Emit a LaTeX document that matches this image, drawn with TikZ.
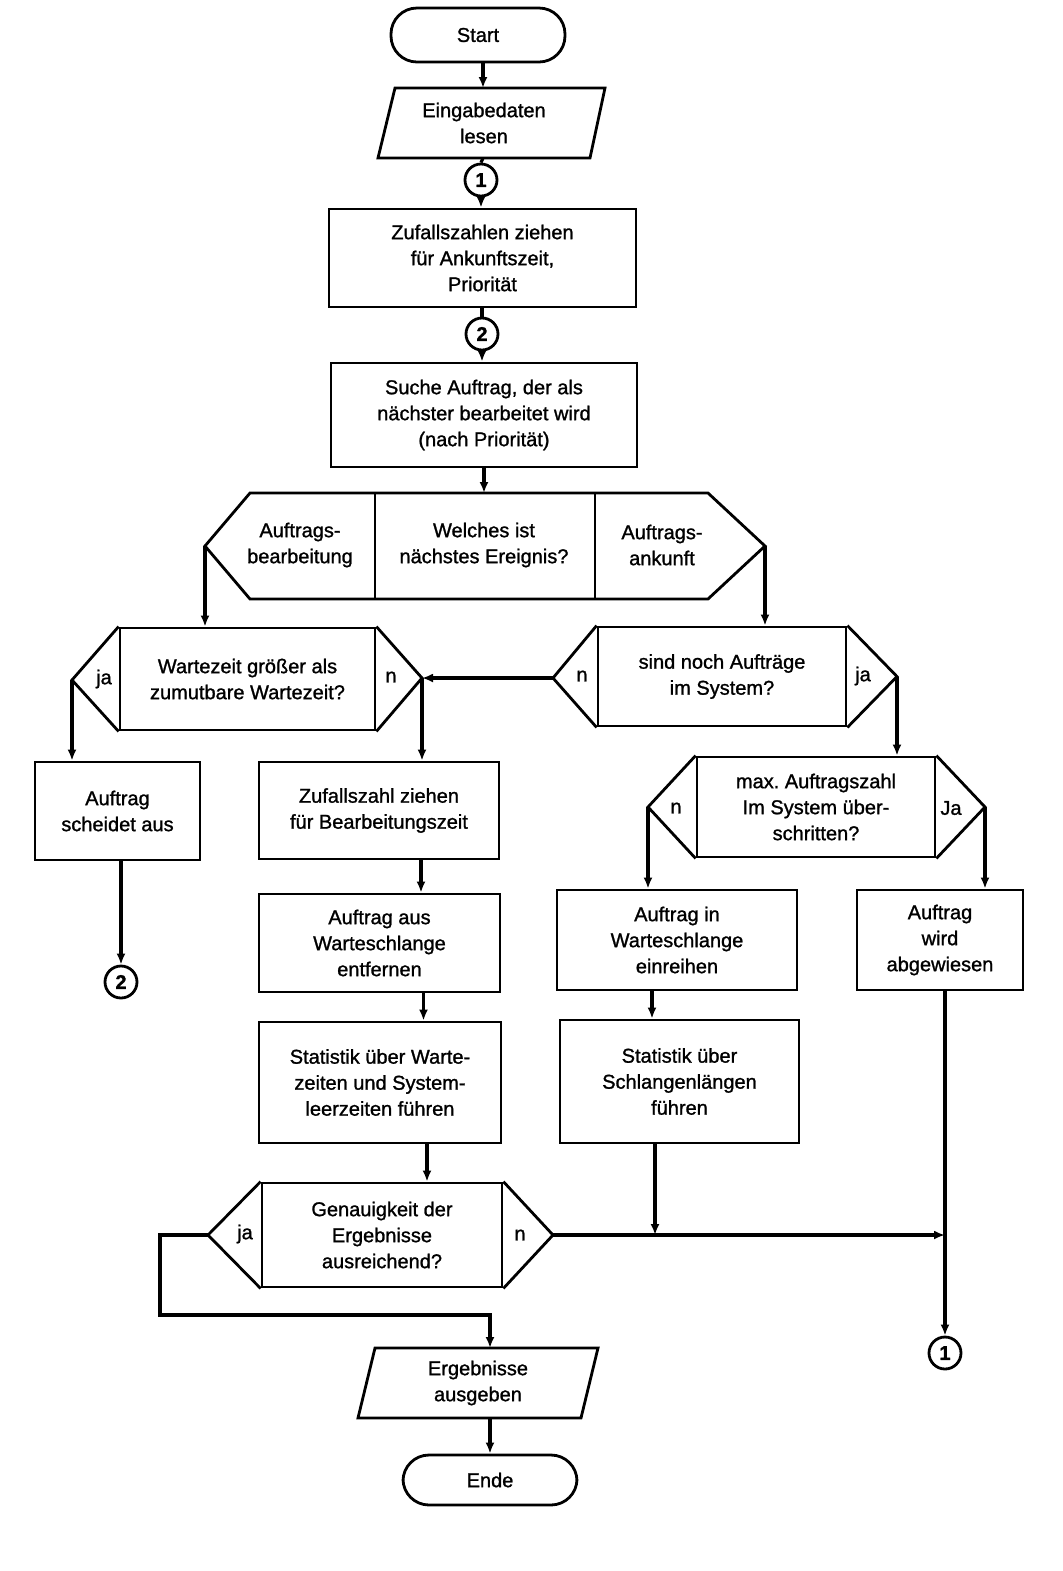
\documentclass[tikz,border=0pt]{standalone}
\usepackage{fontspec}
\setmainfont{Liberation Sans}[FakeBold=1.2]
\usetikzlibrary{arrows.meta}
\begin{document}
\begin{tikzpicture}[x=0.5pt,y=-0.5pt,
  lw/.style={line width=1.4pt},
  flow/.style={line width=1.6pt,-{Latex[length=5.5pt,width=4.5pt]}},
  plain/.style={line width=1.6pt},
  box/.style={draw,lw,align=center,inner sep=0pt,font=\fontsize{10}{13}\selectfont},
  txt/.style={align=center,inner sep=0pt,font=\fontsize{10}{13}\selectfont},
  term/.style={box,rounded corners=13pt},
  conn/.style={draw,circle,lw,minimum size=16pt,inner sep=0pt,font=\bfseries\fontsize{10}{12}\selectfont},
  dec/.style={box},
  lab/.style={txt}]
\useasboundingbox (0,0) rectangle (1063,1571);

% ---- top column
\node[term,minimum width=87pt,minimum height=27pt] (start) at (478,35) {Start};
\coordinate (eint) at (483,88);
\coordinate (einb) at (483,158);
\draw[lw] (395,88) -- (605,88) -- (590,158) -- (378,158) -- cycle;
\node[txt] (ein) at (484,123) {Eingabedaten\\lesen};
\node[conn] (c1) at (481,180) {1};
\node[box,minimum width=153.5pt,minimum height=49pt] (zuf) at (482.5,258) {Zufallszahlen ziehen\\für Ankunftszeit,\\Priorität};
\node[conn] (c2) at (482,334) {2};
\node[box,minimum width=153pt,minimum height=52pt] (suche) at (484,415) {Suche Auftrag, der als\\nächster bearbeitet wird\\(nach Priorität)};

% ---- big decision
\coordinate (bigL) at (205,546);
\coordinate (bigR) at (765,546);
\coordinate (bigT) at (484,493);
\draw[lw] (bigL) -- (250,493) -- (708,493) -- (bigR) -- (708,599) -- (250,599) -- cycle;
\draw[lw] (375,493) -- (375,599) (595,493) -- (595,599);
\node[txt] (bigA) at (300,545) {Auftrags-\\bearbeitung};
\node[txt] (bigB) at (484,545) {Welches ist\\nächstes Ereignis?};
\node[txt] (bigC) at (662,545) {Auftrags-\\ankunft};

% ---- decision Wartezeit
\node[dec,minimum width=127.5pt,minimum height=51pt] (wz) at (247.5,679) {Wartezeit größer als\\zumutbare Wartezeit?};
\coordinate (wzL) at (72,680);
\coordinate (wzR) at (422,678);
\draw[lw] (wz.north west) -- (wzL) -- (wz.south west) (wz.north east) -- (wzR) -- (wz.south east);
\node[lab] (wzja) at (104,679) {ja};
\node[lab] (wzn) at (391,677) {n};

% ---- decision sind noch
\node[dec,minimum width=124pt,minimum height=49.5pt] (sn) at (722,676.5) {sind noch Aufträge\\im System?};
\coordinate (snL) at (553,678);
\coordinate (snR) at (897,676.5);
\draw[lw] (sn.north west) -- (snL) -- (sn.south west) (sn.north east) -- (snR) -- (sn.south east);
\node[lab] (snn) at (582,676) {n};
\node[lab] (snja) at (863,676) {ja};

% ---- decision max
\node[dec,minimum width=119pt,minimum height=50pt] (mx) at (816,807) {max.\ Auftragszahl\\Im System über-\\schritten?};
\coordinate (mxL) at (648,807);
\coordinate (mxR) at (985,807);
\draw[lw] (mx.north west) -- (mxL) -- (mx.south west) (mx.north east) -- (mxR) -- (mx.south east);
\node[lab] (mxn) at (676,808) {n};
\node[lab] (mxja) at (951,808) {Ja};

% ---- boxes
\node[box,minimum width=82.5pt,minimum height=49pt] (aus) at (117.5,811) {Auftrag\\scheidet aus};
\node[conn] (c2b) at (121,982) {2};
\node[box,minimum width=120pt,minimum height=48.5pt] (zz) at (379,810.5) {Zufallszahl ziehen\\für Bearbeitungszeit};
\node[box,minimum width=120.5pt,minimum height=49pt] (entf) at (379.5,943) {Auftrag aus\\Warteschlange\\entfernen};
\node[box,minimum width=121pt,minimum height=60.5pt] (stat1) at (380,1082.5) {Statistik über Warte-\\zeiten und System-\\leerzeiten führen};
\node[box,minimum width=120pt,minimum height=50pt] (einr) at (677,940) {Auftrag in\\Warteschlange\\einreihen};
\node[box,minimum width=119.5pt,minimum height=61.5pt] (stat2) at (679.5,1081.5) {Statistik über\\Schlangenlängen\\führen};
\node[box,minimum width=83pt,minimum height=50pt] (abg) at (940,940) {Auftrag\\wird\\abgewiesen};

% ---- decision Genauigkeit
\node[dec,minimum width=120pt,minimum height=52pt] (gen) at (382,1235) {Genauigkeit der\\Ergebnisse\\ausreichend?};
\coordinate (genL) at (208,1235);
\coordinate (genR) at (553,1235);
\draw[lw] (gen.north west) -- (genL) -- (gen.south west) (gen.north east) -- (genR) -- (gen.south east);
\node[lab] (genja) at (245,1234) {ja};
\node[lab] (genn) at (520,1235) {n};

% ---- output and end
\coordinate (ergt) at (490,1348);
\coordinate (ergb) at (490,1418);
\draw[lw] (375,1348) -- (598,1348) -- (581,1418) -- (358,1418) -- cycle;
\node[txt] (erg) at (478,1383) {Ergebnisse\\ausgeben};
\node[term,minimum width=87pt,minimum height=25pt] (ende) at (490,1480) {Ende};
\node[conn] (c1b) at (945,1353) {1};

% ---- connectors
\draw[flow] (start.south -| eint) -- (eint);
\draw[plain] (einb) -- (c1.north);
\draw[flow] (c1.south) -- (zuf.north -| c1.south);
\draw[plain] (zuf.south -| c2.north) -- (c2.north);
\draw[flow] (c2.south) -- (suche.north -| c2.south);
\draw[flow] (suche.south -| bigT) -- (bigT);
\draw[flow] (bigL) -- (wz.north -| bigL);
\draw[flow] (bigR) -- (sn.north -| bigR);
\draw[flow] (wzL) -- (aus.north -| wzL);
\draw[flow] (snL) -- (wzR);
\draw[flow] (wzR) -- (zz.north -| wzR);
\draw[flow] (snR) -- (mx.north -| snR);
\draw[flow] (mxL) -- (einr.north -| mxL);
\draw[flow] (mxR) -- (abg.north -| mxR);
\draw[flow] (aus.south -| c2b) -- (c2b.north);
\draw[flow] ([xshift=21pt]zz.south) -- ([xshift=21pt]zz.south |- entf.north);
\draw[flow] ([xshift=22pt]entf.south) -- ([xshift=22pt]entf.south |- stat1.north);
\draw[flow] ([xshift=23.5pt]stat1.south) -- ([xshift=23.5pt]stat1.south |- gen.north);
\draw[flow] ([xshift=-12.5pt]einr.south) -- ([xshift=-12.5pt]einr.south |- stat2.north);
\coordinate (j1) at (655,1235);
\coordinate (j2) at (945,1235);
\draw[flow] (stat2.south -| j1) -- (j1);
\draw[flow] (genR) -- (j2);
\draw[flow] (abg.south -| j2) -- (c1b.north);
\draw[flow] (genL) -- (160,1235) -- (160,1315) -- (490,1315) -- (ergt);
\draw[flow] (ergb) -- (ende.north);
\end{tikzpicture}
\end{document}
